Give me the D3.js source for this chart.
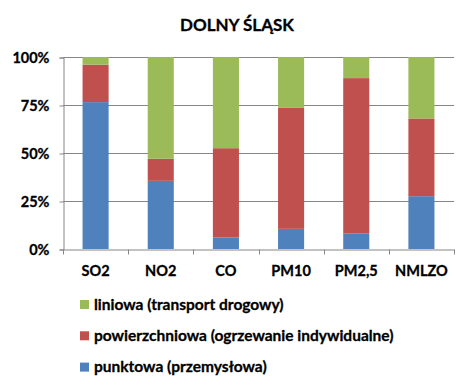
<!DOCTYPE html>
<html>
<head>
<meta charset="utf-8">
<script src="https://cdn.jsdelivr.net/npm/d3@7"></script>
<style>
  body { margin: 0; background: #fff; }
  text { font-family: Lato, "Open Sans", sans-serif; font-weight: bold; fill: #000; stroke: #000; stroke-width: 0.3px; }
</style>
</head>
<body>
<div class="chart"></div>
<script>
// Pollutant categories and the share of each source type (percent)
var categories = ["SO2", "NO2", "CO", "PM10", "PM2,5", "NMLZO"];
var punktowa = [76.5, 35.5, 6, 10.5, 8, 27.5];
var powierzchniowa = [19.5, 11.5, 46.5, 63, 81, 40.5];
var liniowa = [4, 53, 47.5, 26.5, 11, 32];
var yTicks = [0, 25, 50, 75, 100];

var seriesNames = ["punktowa (przemysłowa)", "powierzchniowa (ogrzewanie indywidualne)", "liniowa (transport drogowy)"];
var seriesColors = ["#4F81BD", "#C0504D", "#9BBB59"];

var width = 473, height = 388;
var margin = { left: 63, right: 19, top: 57, bottom: 139 };

var svg = d3.select(".chart").append("svg")
    .attr("width", width)
    .attr("height", height);

// Build rows for the stack
var rows = categories.map(function (c, i) {
    return { cat: c, s0: punktowa[i], s1: powierzchniowa[i], s2: liniowa[i] };
});
var stack = d3.stack().keys(["s0", "s1", "s2"]);
var layers = stack(rows);

var x = d3.scaleBand()
    .domain(categories)
    .range([margin.left, width - margin.right])
    .paddingInner(0.6)
    .paddingOuter(0.3);

var y = d3.scaleLinear()
    .domain([0, 100])
    .range([height - margin.bottom, margin.top]);

// Title
svg.append("text")
    .attr("x", 237)
    .attr("y", 31)
    .attr("text-anchor", "middle")
    .style("font-size", "17px")
    .text("DOLNY ŚLĄSK");

// Gridlines
svg.append("g").selectAll("line")
    .data(yTicks.filter(function (d) { return d > 0; }))
    .enter().append("line")
    .attr("x1", margin.left)
    .attr("x2", width - margin.right)
    .attr("y1", function (d) { return y(d) + 0.5; })
    .attr("y2", function (d) { return y(d) + 0.5; })
    .attr("stroke", "#868686")
    .attr("stroke-width", 1);

// Bars
svg.append("g").selectAll("g")
    .data(layers)
    .enter().append("g")
    .attr("fill", function (d, i) { return seriesColors[i]; })
    .selectAll("rect")
    .data(function (d) { return d; })
    .enter().append("rect")
    .attr("x", function (d) { return x(d.data.cat); })
    .attr("width", x.bandwidth())
    .attr("y", function (d) { return y(d[1]); })
    .attr("height", function (d) { return y(d[0]) - y(d[1]); });

// Y axis
var yAxis = d3.axisLeft(y)
    .tickValues(yTicks)
    .tickSize(4)
    .tickPadding(10)
    .tickFormat(function (d) { return d + "%"; });
var gy = svg.append("g")
    .attr("transform", "translate(" + (margin.left + 0.5) + ",0.5)")
    .call(yAxis);
gy.selectAll("text").style("font-size", "14.5px");
gy.selectAll("line, path").attr("stroke", "#868686");

// X axis: ticks at category boundaries
var xAxis = d3.axisBottom(x).tickSize(0).tickPadding(16);
var gx = svg.append("g")
    .attr("transform", "translate(0," + (y(0) + 0.5) + ")")
    .call(xAxis);
gx.select(".domain").attr("stroke", "#868686");
gx.selectAll("text").style("font-size", "14.5px");
var bounds = d3.range(categories.length + 1).map(function (i) {
    return margin.left + i * (width - margin.right - margin.left) / categories.length;
});
gx.selectAll(".bound")
    .data(bounds)
    .enter().append("line")
    .attr("class", "bound")
    .attr("x1", function (d) { return Math.round(d) + 0.5; })
    .attr("x2", function (d) { return Math.round(d) + 0.5; })
    .attr("y1", 0)
    .attr("y2", 5)
    .attr("stroke", "#868686");

// Legend (reverse order: liniowa on top)
var legendOrder = [2, 1, 0];
var legend = svg.append("g").selectAll("g")
    .data(legendOrder)
    .enter().append("g")
    .attr("transform", function (d, i) { return "translate(80," + (304 + i * 31.3) + ")"; });
legend.append("rect")
    .attr("x", 0)
    .attr("y", -4)
    .attr("width", 9)
    .attr("height", 9)
    .attr("fill", function (d) { return seriesColors[d]; });
legend.append("text")
    .attr("x", 14)
    .attr("y", 5.5)
    .style("font-size", "15.5px")
    .text(function (d) { return seriesNames[d]; });
</script>
</body>
</html>
